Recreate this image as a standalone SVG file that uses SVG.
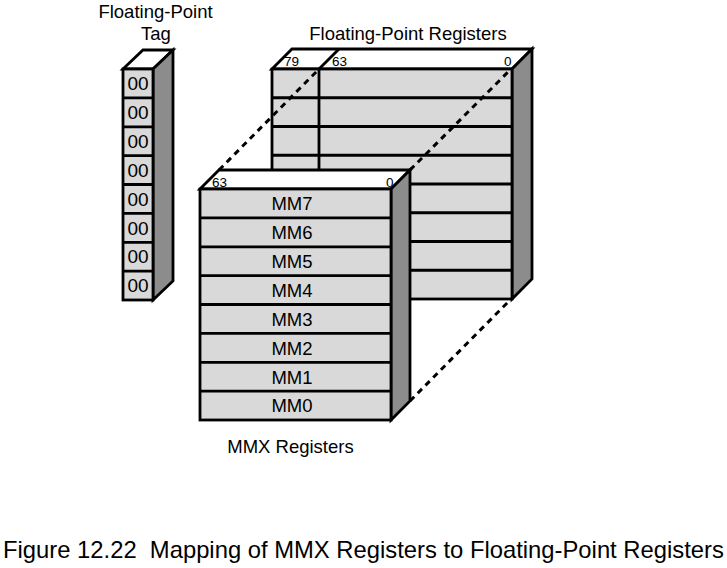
<svg xmlns="http://www.w3.org/2000/svg" width="727" height="568" viewBox="0 0 727 568">
<style>
.face{fill:#d9d9d9;stroke:#000;stroke-width:2.8;stroke-linejoin:miter}
.top{fill:#fff;stroke:#000;stroke-width:2.8;stroke-linejoin:miter}
.side{fill:#8c8c8c;stroke:#000;stroke-width:2.8;stroke-linejoin:miter}
.ln{stroke:#000;stroke-width:2.8;fill:none}
.dash{stroke:#000;stroke-width:3;stroke-dasharray:6 5;fill:none}
text{font-family:"Liberation Sans",Arial,sans-serif;fill:#000}
.lbl{font-size:18.5px;text-anchor:middle}
.reg{font-size:18.5px;text-anchor:middle}
.tg{font-size:19px;text-anchor:middle}
.bit{font-size:13.5px}
.cap{font-size:23.8px}
</style>
<rect width="727" height="568" fill="#fff"/>

<g id="tag">
  <polygon class="top" points="123,69 143,50 173,50 153,69"/>
  <polygon class="side" points="153,69 173,50 173,281 153,300"/>
  <rect class="face" x="123" y="69" width="30" height="231"/>
  <path class="ln" d="M123,97.9H153M123,126.8H153M123,155.6H153M123,184.5H153M123,213.4H153M123,242.3H153M123,271.1H153"/>
  <g class="tg">
    <text x="138" y="90">00</text>
    <text x="138" y="119">00</text>
    <text x="138" y="148">00</text>
    <text x="138" y="177">00</text>
    <text x="138" y="206">00</text>
    <text x="138" y="235">00</text>
    <text x="138" y="263">00</text>
    <text x="138" y="292">00</text>
  </g>
  <text class="lbl" x="155.5" y="18">Floating-Point</text>
  <text class="lbl" x="156" y="40">Tag</text>
</g>

<g id="fp-registers">
  <polygon class="top" points="272,69 292,49 532,49 512,69"/>
  <line class="ln" x1="319" y1="69" x2="339" y2="49"/>
  <polygon class="side" points="512,69 532,49 532,279 512,299"/>
  <rect class="face" x="272" y="69" width="240" height="230"/>
  <path class="ln" d="M272,97.75H512M272,126.5H512M272,155.25H512M272,184H512M272,212.75H512M272,241.5H512M272,270.25H512M319,69V299"/>
  <text class="bit" x="284" y="66">79</text>
  <text class="bit" x="332" y="66">63</text>
  <text class="bit" x="504" y="66">0</text>
  <text class="lbl" x="408" y="40">Floating-Point Registers</text>
</g>

<g id="connectors">
  <line class="dash" x1="219" y1="170" x2="319" y2="69"/>
  <line class="dash" x1="410" y1="170" x2="511" y2="69"/>
  <line class="dash" x1="410" y1="401" x2="511" y2="299"/>
</g>

<g id="mmx-registers">
  <polygon class="top" points="200,189 219,170 410,170 391,189"/>
  <polygon class="side" points="391,189 410,170 410,401 391,420"/>
  <rect class="face" x="200" y="189" width="191" height="231"/>
  <path class="ln" d="M200,217.9H391M200,246.8H391M200,275.6H391M200,304.5H391M200,333.4H391M200,362.3H391M200,391.1H391"/>
  <text class="bit" x="212" y="187">63</text>
  <text class="bit" x="386" y="187">0</text>
  <g class="reg">
    <text x="292" y="210">MM7</text>
    <text x="292" y="239">MM6</text>
    <text x="292" y="268">MM5</text>
    <text x="292" y="297">MM4</text>
    <text x="292" y="326">MM3</text>
    <text x="292" y="355">MM2</text>
    <text x="292" y="384">MM1</text>
    <text x="292" y="412">MM0</text>
  </g>
  <text class="lbl" x="290.5" y="453">MMX Registers</text>
</g>

<text class="cap" x="3" y="558" xml:space="preserve">Figure 12.22  Mapping of MMX Registers to Floating-Point Registers</text>
</svg>
